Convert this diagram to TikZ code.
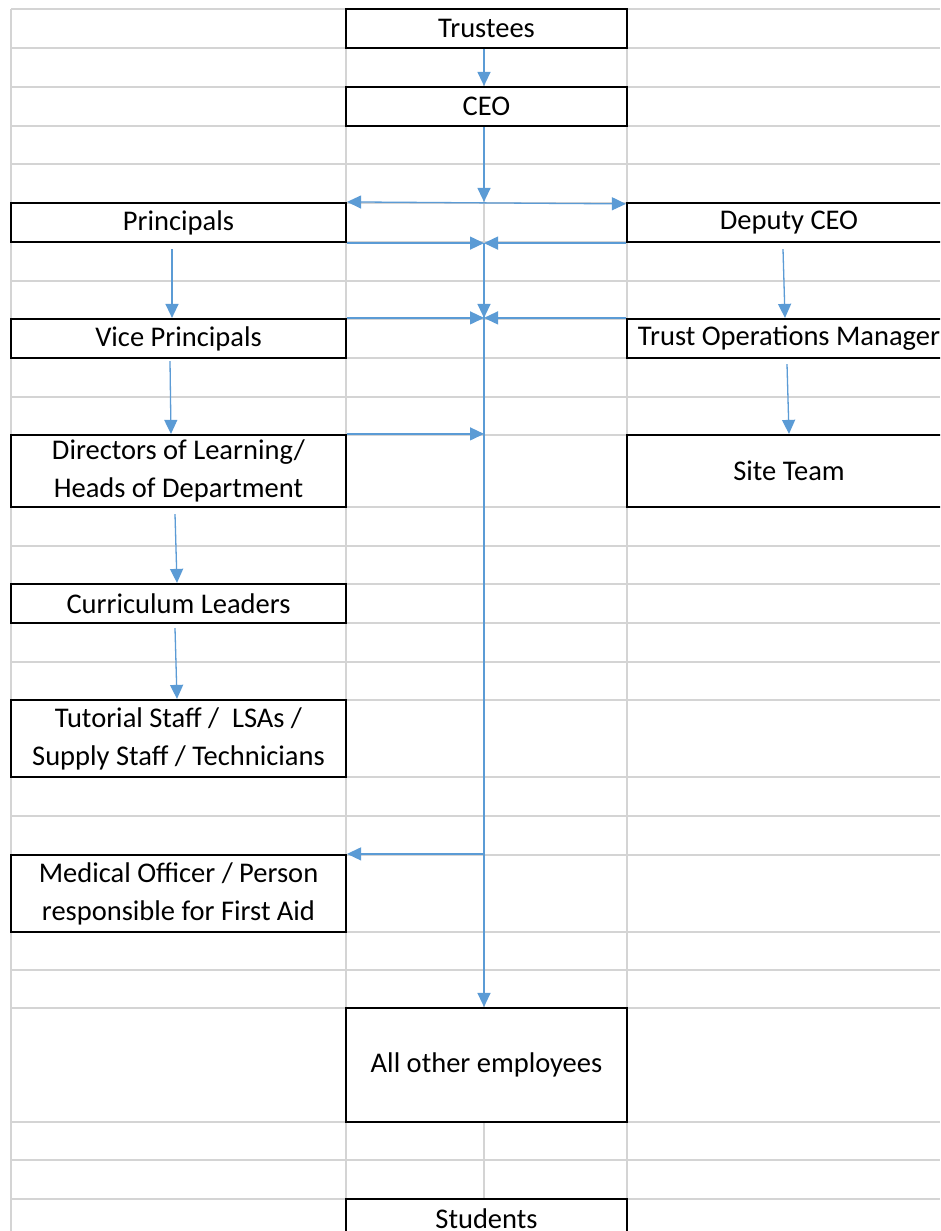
\documentclass[tikz,border=0pt]{standalone}
\usepackage{fontspec}
\setmainfont{Carlito}
\usetikzlibrary{arrows.meta}
\definecolor{gridc}{HTML}{D4D4D4}
\definecolor{arrc}{HTML}{5B9BD5}
\begin{document}
\begin{tikzpicture}[x=1pt,y=-1pt,
  box/.style={draw=black,line width=2.2pt,fill=white,inner sep=0pt,align=center,
    font=\fontsize{28.5}{38}\selectfont},
  arr/.style={draw=arrc,line width=1.3pt,-{Triangle[length=14pt,width=13pt]}},
  arrb/.style={draw=arrc,line width=1.3pt,{Triangle[length=14pt,width=13pt]}-{Triangle[length=14pt,width=13pt]}},
  gridline/.style={draw=gridc,line width=1.1pt}]
\clip (0,0) rectangle (940,1231);
\fill[white] (0,0) rectangle (940,1231);
% grid
\foreach \yy in {9,48,87,126,164,203,242,281,319,358,397,435,507,546,584,623,662,700,777,816,855,932,970,1008,1122,1160,1199}
  \draw[gridline] (11,\yy) -- (940,\yy);
\foreach \xx in {11,346,484,627}
  \draw[gridline] (\xx,9) -- (\xx,1231);
\coordinate (sp) at (484,0);
% boxes
\node[box,minimum width=281pt,minimum height=39pt] (trustees) at (486.5,28.5) {Trustees};
\node[box,minimum width=281pt,minimum height=39pt] (ceo) at (486.5,106.5) {CEO};
\node[box,minimum width=335pt,minimum height=39pt] (princ) at (178.5,222.5) {Principals};
\node[box,minimum width=324pt,minimum height=39pt] (dceo) at (789,222.5) {Deputy CEO};
\node[box,minimum width=335pt,minimum height=39pt] (vp) at (178.5,338.5) {Vice Principals};
\node[box,minimum width=324pt,minimum height=39pt] (tom) at (789,338.5) {Trust Operations Manager};
\node[box,minimum width=335pt,minimum height=72pt] (dir) at (178.5,471) {Directors of Learning/\\Heads of Department};
\node[box,minimum width=324pt,minimum height=72pt] (site) at (789,471) {Site Team};
\node[box,minimum width=335pt,minimum height=39pt] (curr) at (178.5,603.5) {Curriculum Leaders};
\node[box,minimum width=335pt,minimum height=77pt] (tut) at (178.5,738.5) {Tutorial Staff /\ \ LSAs /\\Supply Staff / Technicians};
\node[box,minimum width=335pt,minimum height=77pt] (med) at (178.5,893.5) {Medical Officer / Person\\responsible for First Aid};
\node[box,minimum width=281pt,minimum height=114pt] (allo) at (486.5,1065) {All other employees};
\node[box,minimum width=281pt,minimum height=40pt] (stud) at (486.5,1219) {Students};
% central connectors
\draw[arr] (trustees.south -| sp) -- (ceo.north -| sp);
\draw[arr] (ceo.south -| sp) -- (princ.north east -| sp);
\draw[arrb] (princ.north east) -- ([yshift=-2pt]dceo.north west);
\draw[arr] (princ.south east) -- (princ.south east -| sp);
\draw[arr] (dceo.south west) -- (dceo.south west -| sp);
\draw[arr] (princ.south east -| sp) -- (allo.north -| sp);
\draw[arr] (princ.south east -| sp) -- (vp.north east -| sp);
\draw[arr] (vp.north east) -- (vp.north east -| sp);
\draw[arr] (tom.north west) -- (tom.north west -| sp);
\draw[arr] (dir.north east) -- (dir.north east -| sp);
\draw[arr] (med.north east -| sp) -- (med.north east);
% left chain
\draw[arr] ([xshift=-6.5pt,yshift=-6pt]princ.south) -- ([xshift=-6.5pt]vp.north);
\draw[arr] ([xshift=-8.5pt,yshift=-2pt]vp.south) -- ([xshift=-7.5pt]dir.north);
\draw[arr] ([xshift=-3.5pt,yshift=-6pt]dir.south) -- ([xshift=-1.5pt]curr.north);
\draw[arr] ([xshift=-3.5pt,yshift=-4pt]curr.south) -- ([xshift=-1.5pt]tut.north);
% right chain
\draw[arr] ([xshift=-6pt,yshift=-6pt]dceo.south) -- ([xshift=-4pt]tom.north);
\draw[arr] ([xshift=-2pt,yshift=-5pt]tom.south) -- (site.north);
\end{tikzpicture}
\end{document}
